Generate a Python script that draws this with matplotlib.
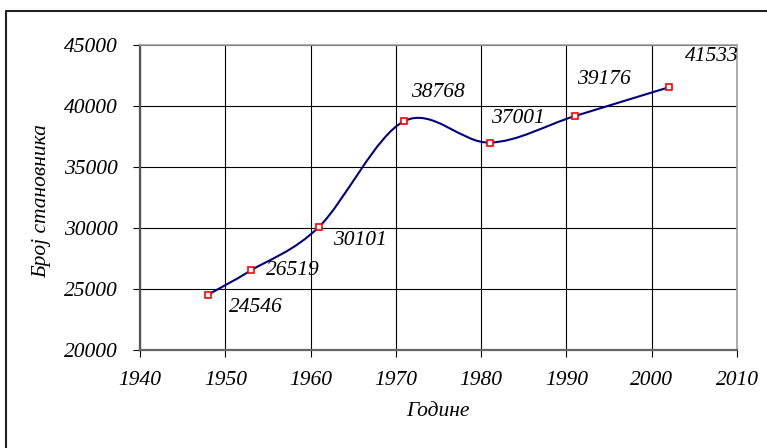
import matplotlib.pyplot as plt
from matplotlib.path import Path
from matplotlib.patches import PathPatch
from matplotlib.lines import Line2D

# Population by census year
years = [1948, 1953, 1961, 1971, 1981, 1991, 2002]
population = [24546, 26519, 30101, 38768, 37001, 39176, 41533]
x_ticks = [1940, 1950, 1960, 1970, 1980, 1990, 2000, 2010]
y_ticks = [20000, 25000, 30000, 35000, 40000, 45000]

# label offsets in pixels (dx, dy) relative to each marker
label_offsets = [(21, -13), (15, 0), (14, -14), (7, 29), (1, 24), (2, 37), (16, 31)]

plt.rcParams['font.family'] = ['Liberation Serif', 'DejaVu Serif']
plt.rcParams['font.style'] = 'italic'
fs = 15.5

W, H = 767, 448
fig = plt.figure(figsize=(W / 100, H / 100), dpi=100)
ax = fig.add_axes([140 / W, 1 - 350 / H, (737 - 140) / W, (350 - 45) / H])

# smoothed line, like the Excel "smoothed line" option (Bezier segments)
pts = list(zip(years, population))
verts = [pts[0]]
codes = [Path.MOVETO]
n = len(pts)
for i in range(n - 1):
    p0 = pts[i - 1] if i > 0 else pts[i]
    p1 = pts[i]
    p2 = pts[i + 1]
    p3 = pts[i + 2] if i + 2 < n else pts[i + 1]
    c1 = (p1[0] + (p2[0] - p0[0]) / 6, p1[1] + (p2[1] - p0[1]) / 6)
    c2 = (p2[0] - (p3[0] - p1[0]) / 6, p2[1] - (p3[1] - p1[1]) / 6)
    verts += [c1, c2, p2]
    codes += [Path.CURVE4] * 3
ax.add_patch(PathPatch(Path(verts, codes), facecolor='none', edgecolor='#000080',
                       linewidth=1.5, zorder=3))

ax.plot(years, population, linestyle='none', marker='s', markersize=4.2,
        markerfacecolor='white', markeredgecolor='#ff0000', markeredgewidth=1.2, zorder=4)

for x, y, (dx, dy) in zip(years, population, label_offsets):
    ax.annotate(str(y), (x, y), xytext=(dx, dy), textcoords='offset pixels',
                ha='left', va='center', fontsize=fs, style='italic')

ax.set_xlim(1940, 2010)
ax.set_ylim(20000, 45000)
ax.set_xticks(x_ticks)
ax.set_yticks(y_ticks)
ax.set_xticklabels([str(t) for t in x_ticks])
ax.set_yticklabels([str(t) for t in y_ticks])
ax.grid(True, color='black', linewidth=0.8)
ax.set_axisbelow(True)
ax.tick_params(direction='out', length=5, width=0.8, color='black', labelsize=fs)
ax.tick_params(axis='x', pad=10)
ax.tick_params(axis='y', pad=11)
for lbl in ax.get_xticklabels() + ax.get_yticklabels():
    lbl.set_fontstyle('italic')
    lbl.set_fontfamily(['Liberation Serif'])

ax.spines['left'].set_color('#555555')
ax.spines['left'].set_linewidth(1.6)
ax.spines['bottom'].set_color('#666666')
ax.spines['bottom'].set_linewidth(1.6)
ax.spines['top'].set_color('#a0a0a0')
ax.spines['top'].set_linewidth(1.2)
ax.spines['right'].set_color('#a0a0a0')
ax.spines['right'].set_linewidth(1.2)

fig.text(42 / W, 1 - 201 / H, 'Број становника', rotation=90, ha='center', va='center',
         fontsize=fs, style='italic')
fig.text(438 / W, 1 - 412 / H, 'Године', ha='center', va='center', fontsize=fs, style='italic')

# outer chart border (clipped on the right and bottom in the original)
fig.add_artist(Line2D([6 / W, 6 / W, 1.05], [-0.05, 1 - 11 / H, 1 - 11 / H],
                      transform=fig.transFigure, color='#222222', linewidth=1.5))

fig.savefig('out.png', dpi=100)
